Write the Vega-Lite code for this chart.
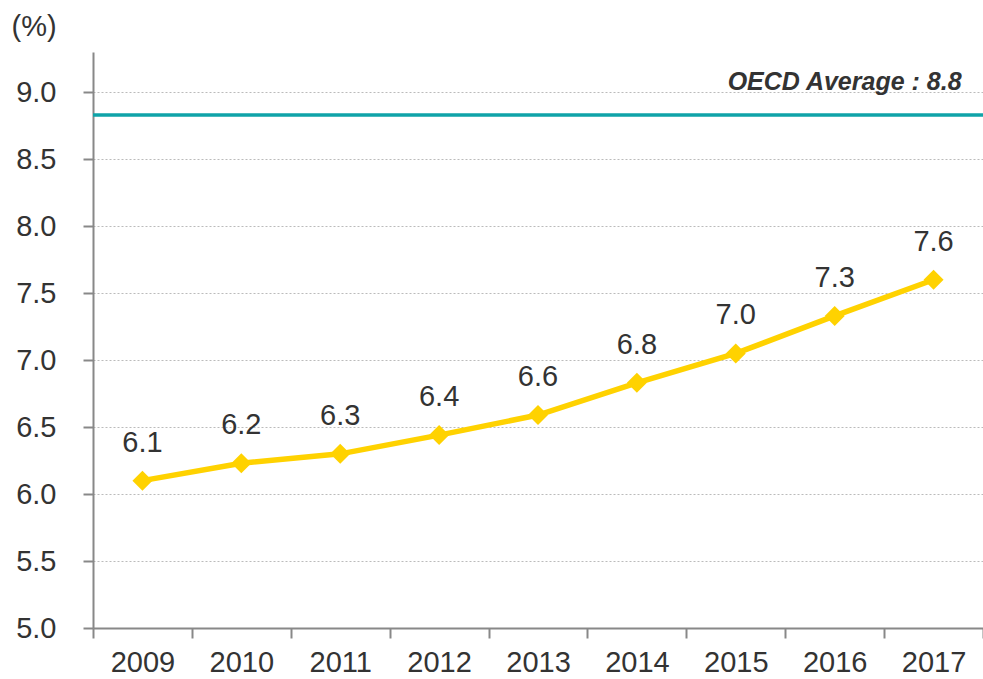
{
  "$schema": "https://vega.github.io/schema/vega-lite/v6.json",
  "width": 890,
  "height": 576,
  "autosize": {"type": "none"},
  "padding": {"left": 93, "top": 52, "right": 0, "bottom": 51},
  "background": "white",
  "config": {
    "view": {"stroke": null},
    "font": "Liberation Sans"
  },
  "datasets": {
    "series": [
      {"year": "2009", "value": 6.1, "label": "6.1"},
      {"year": "2010", "value": 6.23, "label": "6.2"},
      {"year": "2011", "value": 6.3, "label": "6.3"},
      {"year": "2012", "value": 6.44, "label": "6.4"},
      {"year": "2013", "value": 6.59, "label": "6.6"},
      {"year": "2014", "value": 6.83, "label": "6.8"},
      {"year": "2015", "value": 7.05, "label": "7.0"},
      {"year": "2016", "value": 7.33, "label": "7.3"},
      {"year": "2017", "value": 7.6, "label": "7.6"}
    ],
    "oecd": [
      {"year": "2017", "value": 8.83, "label": "OECD Average  : 8.8"}
    ]
  },
  "layer": [
    {
      "data": {"name": "oecd"},
      "mark": {"type": "rule", "color": "#0FA3A8", "strokeWidth": 3.5},
      "encoding": {
        "y": {"field": "value", "type": "quantitative"}
      }
    },
    {
      "data": {"name": "oecd"},
      "mark": {"type": "text", "fontSize": 25, "fontWeight": "bold", "fontStyle": "italic", "color": "#333333", "align": "right", "baseline": "alphabetic", "dx": 28, "dy": -25},
      "encoding": {
        "x": {"field": "year", "type": "nominal"},
        "y": {"field": "value", "type": "quantitative"},
        "text": {"field": "label"}
      }
    },
    {
      "data": {"name": "series"},
      "mark": {"type": "line", "color": "#FFD200", "strokeWidth": 5.5},
      "encoding": {
        "x": {
          "field": "year", "type": "ordinal",
          "scale": {"paddingInner": 0, "paddingOuter": 0},
          "axis": {
            "title": null, "labelAngle": 0, "labelAlign": "center", "labelBaseline": "top",
            "labelFontSize": 29, "labelColor": "#333333",
            "labelPadding": 10, "tickSize": 10, "tickColor": "#888888", "tickWidth": 2,
            "domainColor": "#888888", "domainWidth": 2, "grid": false, "tickBand": "extent"
          }
        },
        "y": {
          "field": "value", "type": "quantitative",
          "scale": {"domain": [5, 9.3], "nice": false, "zero": false},
          "axis": {
            "values": [5, 5.5, 6, 6.5, 7, 7.5, 8, 8.5, 9],
            "format": ".1f",
            "title": "(%)", "titleAngle": 0, "titleAlign": "left", "titleBaseline": "middle",
            "titleX": -82, "titleY": -26, "titleFontSize": 29, "titleFontWeight": "normal", "titleColor": "#333333",
            "labelFontSize": 29, "labelColor": "#333333", "labelPadding": 27,
            "tickSize": 10, "tickColor": "#888888", "tickWidth": 2,
            "domainColor": "#888888", "domainWidth": 2,
            "grid": true, "gridColor": "#bbbbbb", "gridDash": [2, 2], "gridWidth": 1
          }
        }
      }
    },
    {
      "data": {"name": "series"},
      "mark": {"type": "point", "shape": "diamond", "filled": true, "color": "#FFD200", "size": 400, "opacity": 1},
      "encoding": {
        "x": {"field": "year", "type": "ordinal"},
        "y": {"field": "value", "type": "quantitative"}
      }
    },
    {
      "data": {"name": "series"},
      "mark": {"type": "text", "fontSize": 29, "color": "#333333", "dy": -38},
      "encoding": {
        "x": {"field": "year", "type": "ordinal"},
        "y": {"field": "value", "type": "quantitative"},
        "text": {"field": "label"}
      }
    }
  ]
}
